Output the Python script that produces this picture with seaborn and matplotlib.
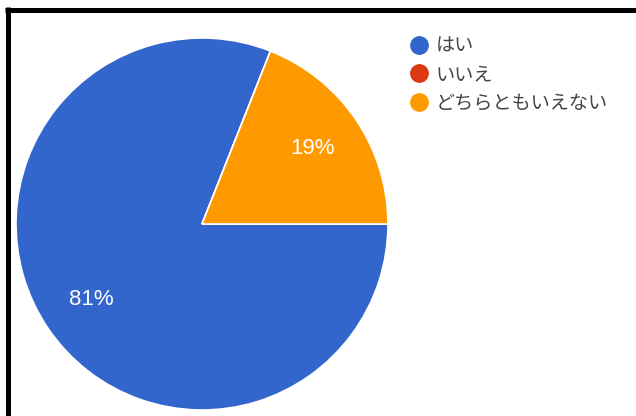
import matplotlib
matplotlib.use("Agg")
import matplotlib.pyplot as plt
from matplotlib.lines import Line2D
import seaborn as sns

labels = ["はい", "いいえ", "どちらともいえない"]
values = [81, 0, 19]
colors = ["#3366cc", "#dc3912", "#ff9900"]

sns.set_theme(style="white")
plt.rcParams['font.family'] = ['Liberation Sans', 'Noto Sans CJK JP', 'DejaVu Sans']

W, H = 636, 416
fig = plt.figure(figsize=(W / 100, H / 100), dpi=100)
fig.patch.set_facecolor("white")

# pie centre (202, 224) px, radius 186 px
cx, cy, r = 202, 224, 186
ax = fig.add_axes([(cx - r) / W, (H - cy - r) / H, 2 * r / W, 2 * r / H])


def pct_fmt(p):
    return f"{p:.0f}%" if p >= 1 else ""


wedges, texts, autotexts = ax.pie(
    values, colors=colors, startangle=0, counterclock=False,
    autopct=pct_fmt, pctdistance=0.72,
    wedgeprops=dict(edgecolor="white", linewidth=1.2),
    textprops=dict(color="white", fontsize=16),
)
ax.set_xlim(-1, 1)
ax.set_ylim(-1, 1)
ax.set_aspect("equal")

handles = [Line2D([0], [0], marker="o", linestyle="", markersize=12.5,
                  markerfacecolor=c, markeredgecolor=c) for c in colors]
leg = fig.legend(handles, labels, loc="upper left",
                 bbox_to_anchor=(410 / W, 1 - 38 / H),
                 frameon=False, fontsize=13.8, labelcolor="#444444",
                 handlelength=0.9, handletextpad=0.45, labelspacing=0.58,
                 borderaxespad=0, borderpad=0)

# black frame at top and left of the screenshot
fig.add_artist(Line2D([5 / W, 1], [1 - 9.5 / H, 1 - 9.5 / H], color="black",
                      linewidth=3.6, solid_capstyle="butt"))
fig.add_artist(Line2D([7.5 / W, 7.5 / W], [0, 1 - 7 / H], color="black",
                      linewidth=3.6, solid_capstyle="butt"))

fig.savefig("out.png", dpi=100, facecolor="white")
